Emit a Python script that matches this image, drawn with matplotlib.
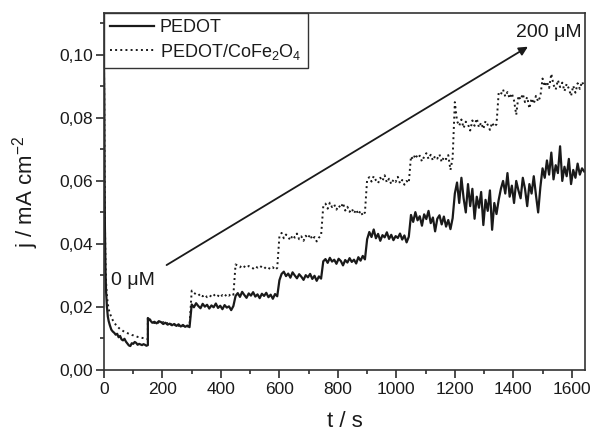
import numpy as np
import matplotlib
matplotlib.use('Agg')
import matplotlib.pyplot as plt
from matplotlib.ticker import MultipleLocator, FuncFormatter

plt.rcParams['font.family'] = ['Liberation Sans', 'DejaVu Sans']
plt.rcParams['mathtext.default'] = 'regular'

# ---- data ----
# start-up decay, 0 .. 150 s
t_decay = [0, 1, 2, 3, 5, 7, 10, 13, 16, 20, 25, 30, 35, 40, 45, 50, 55, 60,
           65, 70, 75, 80, 85, 90, 95, 100, 105, 110, 115, 120, 125, 130, 135,
           140, 145, 150]
pedot_decay = [0.097, 0.088, 0.062, 0.046, 0.032, 0.025, 0.020, 0.017, 0.0155,
               0.0142, 0.0128, 0.0122, 0.0118, 0.0112, 0.0115, 0.0104, 0.0108,
               0.0097, 0.0094, 0.0099, 0.0090, 0.0084, 0.0078, 0.0076, 0.0085,
               0.0083, 0.0089, 0.0086, 0.0080, 0.0083, 0.0081, 0.0079, 0.0082,
               0.0080, 0.0077, 0.0079]
cofe_decay = [0.096, 0.085, 0.060, 0.047, 0.035, 0.028, 0.0235, 0.021, 0.0193,
              0.018, 0.0168, 0.0158, 0.0150, 0.0144, 0.0139, 0.0134, 0.0130,
              0.0127, 0.0124, 0.0121, 0.0119, 0.0117, 0.0115, 0.0113, 0.0111,
              0.0110, 0.0108, 0.0107, 0.0105, 0.0104, 0.0103, 0.0102, 0.0101,
              0.0100, 0.0099, 0.0098]

# additions every 150 s, sampled every 7.5 s from 150 s on
t_start = 150
t_step = 7.5

pedot_steps = [
    0.0165, 0.0158, 0.0150, 0.0153, 0.0148, 0.0155, 0.0152, 0.0146, 0.0150, 0.0144,
    0.0147, 0.0142, 0.0146, 0.0140, 0.0145, 0.0138, 0.0143, 0.0137, 0.0141, 0.0136,
    0.0208, 0.0199, 0.0212, 0.0203, 0.0196, 0.0210, 0.0201, 0.0207, 0.0195, 0.0205,
    0.0199, 0.0211, 0.0197, 0.0204, 0.0193, 0.0206, 0.0198, 0.0202, 0.0190, 0.0203,
    0.0235, 0.0244, 0.0232, 0.0248, 0.0238, 0.0229, 0.0243, 0.0236, 0.0247, 0.0233,
    0.0240, 0.0228, 0.0242, 0.0235, 0.0245, 0.0231, 0.0239, 0.0226, 0.0241, 0.0234,
    0.0285, 0.0305, 0.0312, 0.0298, 0.0306, 0.0293, 0.0310, 0.0300, 0.0291, 0.0304,
    0.0296, 0.0286, 0.0301, 0.0294, 0.0305, 0.0289, 0.0299, 0.0283, 0.0297, 0.0290,
    0.0345, 0.0352, 0.0340, 0.0356, 0.0344, 0.0350, 0.0337, 0.0353, 0.0346, 0.0332,
    0.0349, 0.0341, 0.0355, 0.0343, 0.0350, 0.0338, 0.0358, 0.0347, 0.0362, 0.0351,
    0.0415, 0.0438, 0.0422, 0.0446, 0.0418, 0.0432, 0.0410, 0.0428, 0.0421, 0.0437,
    0.0416, 0.0429, 0.0412, 0.0425, 0.0419, 0.0433, 0.0414, 0.0427, 0.0405, 0.0423,
    0.0492, 0.0470, 0.0501, 0.0475, 0.0488, 0.0458, 0.0494, 0.0479, 0.0505, 0.0466,
    0.0484, 0.0440, 0.0480, 0.0491, 0.0462, 0.0487, 0.0455, 0.0476, 0.0447, 0.0482,
    0.0560, 0.0595, 0.0530, 0.0610, 0.0545, 0.0500, 0.0590, 0.0520, 0.0575, 0.0480,
    0.0550, 0.0515, 0.0565, 0.0460, 0.0540, 0.0505, 0.0570, 0.0445, 0.0530, 0.0495,
    0.0540, 0.0575, 0.0600, 0.0560, 0.0625, 0.0550, 0.0585, 0.0530, 0.0600, 0.0570,
    0.0545, 0.0610, 0.0575, 0.0520, 0.0590, 0.0560, 0.0615, 0.0555, 0.0500, 0.0580,
    0.0640, 0.0610, 0.0665, 0.0620, 0.0690, 0.0605, 0.0650, 0.0625, 0.0710, 0.0600,
    0.0645, 0.0615, 0.0670, 0.0590, 0.0635, 0.0610, 0.0655, 0.0620, 0.0640, 0.0630,
]

cofe_steps = [
    0.0168, 0.0160, 0.0153, 0.0149, 0.0154, 0.0150, 0.0147, 0.0152, 0.0145, 0.0149,
    0.0143, 0.0147, 0.0141, 0.0146, 0.0140, 0.0144, 0.0139, 0.0142, 0.0138, 0.0140,
    0.0252, 0.0245, 0.0240, 0.0236, 0.0242, 0.0234, 0.0239, 0.0231, 0.0237, 0.0233,
    0.0240, 0.0232, 0.0236, 0.0230, 0.0238, 0.0233, 0.0241, 0.0236, 0.0243, 0.0239,
    0.0335, 0.0331, 0.0326, 0.0333, 0.0328, 0.0324, 0.0330, 0.0327, 0.0322, 0.0329,
    0.0325, 0.0331, 0.0326, 0.0321, 0.0328, 0.0324, 0.0320, 0.0326, 0.0318, 0.0324,
    0.0425, 0.0435, 0.0418, 0.0430, 0.0422, 0.0412, 0.0428, 0.0420, 0.0433, 0.0415,
    0.0424, 0.0410, 0.0426, 0.0418, 0.0430, 0.0414, 0.0422, 0.0408, 0.0420, 0.0427,
    0.0520, 0.0528, 0.0512, 0.0531, 0.0517, 0.0525, 0.0509, 0.0522, 0.0514, 0.0530,
    0.0506, 0.0518, 0.0502, 0.0512, 0.0497, 0.0509, 0.0494, 0.0505, 0.0490, 0.0500,
    0.0605, 0.0612, 0.0598, 0.0615, 0.0602, 0.0593, 0.0610, 0.0600, 0.0618, 0.0595,
    0.0607, 0.0590, 0.0604, 0.0597, 0.0613, 0.0592, 0.0603, 0.0588, 0.0600, 0.0594,
    0.0678, 0.0668, 0.0685, 0.0672, 0.0680, 0.0662, 0.0677, 0.0688, 0.0670, 0.0683,
    0.0665, 0.0679, 0.0671, 0.0684, 0.0660, 0.0676, 0.0669, 0.0682, 0.0635, 0.0673,
    0.0850, 0.0790, 0.0775, 0.0795, 0.0768, 0.0788, 0.0780, 0.0760, 0.0792, 0.0775,
    0.0798, 0.0770, 0.0785, 0.0765, 0.0790, 0.0778, 0.0762, 0.0785, 0.0772, 0.0780,
    0.0880, 0.0875, 0.0890, 0.0868, 0.0882, 0.0862, 0.0878, 0.0855, 0.0810, 0.0870,
    0.0858, 0.0876, 0.0850, 0.0866, 0.0830, 0.0862, 0.0845, 0.0870, 0.0852, 0.0868,
    0.0925, 0.0900, 0.0915, 0.0895, 0.0940, 0.0905, 0.0890, 0.0920, 0.0898, 0.0912,
    0.0885, 0.0908, 0.0893, 0.0870, 0.0902, 0.0880, 0.0910, 0.0892, 0.0915, 0.0900,
]

t_steps = t_start + t_step * np.arange(len(pedot_steps))

t_all = np.concatenate([t_decay, t_steps])
pedot = np.concatenate([pedot_decay, pedot_steps])
cofe = np.concatenate([cofe_decay, cofe_steps])

ink = '#1a1a1a'

fig = plt.figure(figsize=(5.93, 4.33), dpi=100)
ax = fig.add_axes([0.1754, 0.1455, 0.811, 0.8245])

ax.plot(t_all, pedot, color=ink, lw=1.6, label='PEDOT')
ax.plot(t_all, cofe, color=ink, lw=1.4, ls=':', label='PEDOT/CoFe$_2$O$_4$')

ax.annotate('', xy=(1450, 0.1026), xytext=(214, 0.0333),
            arrowprops=dict(arrowstyle='-|>', color=ink, lw=1.3,
                            mutation_scale=13, shrinkA=0, shrinkB=0))
ax.text(24, 0.0283, '0 μM', fontsize=14, color=ink, va='center', ha='left')
ax.text(1635, 0.1072, '200 μM', fontsize=14, color=ink, va='center', ha='right')

ax.set_xlim(0, 1645)
ax.set_ylim(0, 0.1133)
ax.xaxis.set_major_locator(MultipleLocator(200))
ax.xaxis.set_minor_locator(MultipleLocator(100))
ax.yaxis.set_major_locator(MultipleLocator(0.02))
ax.yaxis.set_minor_locator(MultipleLocator(0.01))
ax.yaxis.set_major_formatter(FuncFormatter(lambda v, p: f'{v:.2f}'.replace('.', ',')))
ax.tick_params(which='both', direction='out', colors=ink, labelsize=12.5, width=1.1)
ax.tick_params(which='major', length=6)
ax.tick_params(axis='y', which='major', pad=2)
ax.tick_params(axis='x', which='major', pad=3)
ax.tick_params(which='minor', length=3)
for s in ax.spines.values():
    s.set_color('#333333')
    s.set_linewidth(1.2)

ax.set_xlabel('t / s', fontsize=16, color=ink, labelpad=10)
ax.set_ylabel('j / mA cm$^{-2}$', fontsize=16, color=ink, labelpad=13)

leg = ax.legend(loc='upper left', fontsize=13, frameon=True, fancybox=False,
                borderaxespad=0, handlelength=2.4, labelspacing=0.3,
                borderpad=0.35, handletextpad=0.35, framealpha=1)
leg.get_frame().set_edgecolor('#333333')
leg.get_frame().set_linewidth(1.0)
for txt in leg.get_texts():
    txt.set_color(ink)

fig.savefig('out.png', dpi=100)
